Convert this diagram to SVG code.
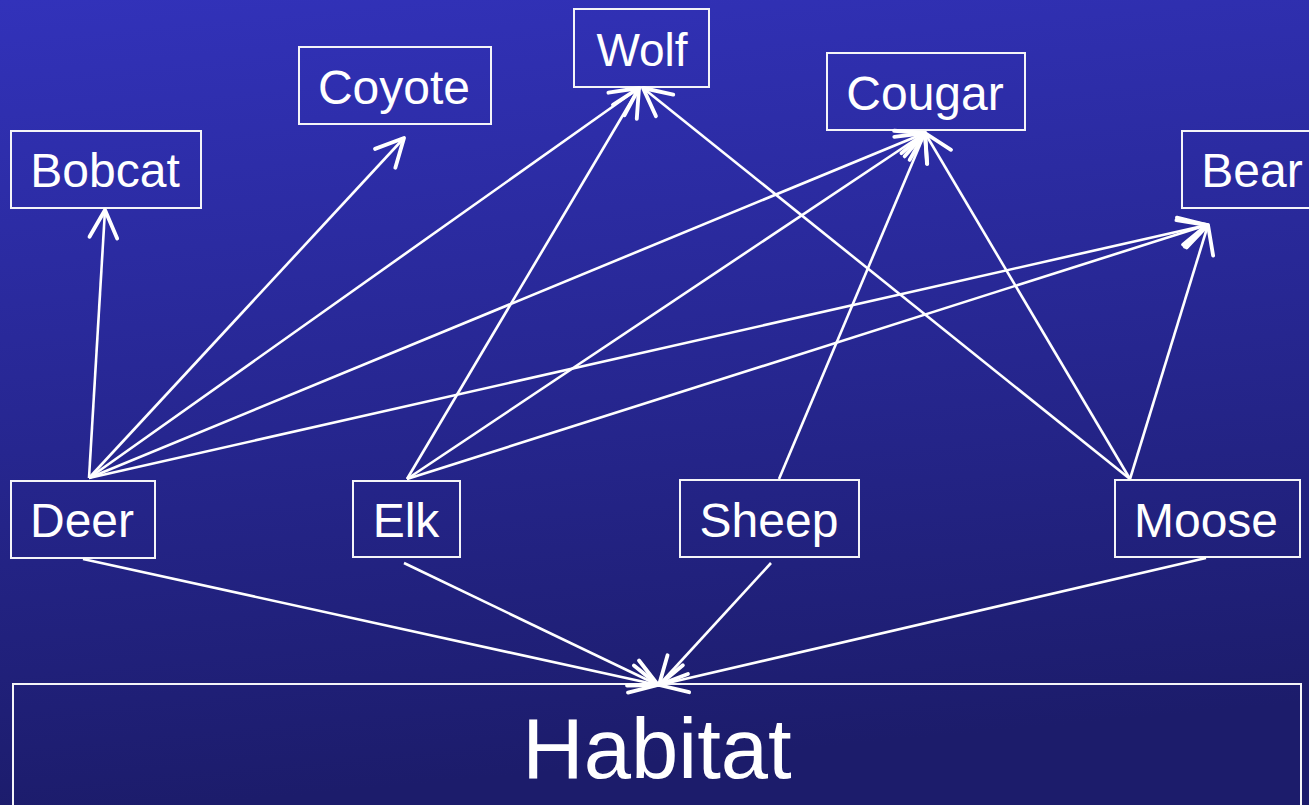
<svg xmlns="http://www.w3.org/2000/svg" width="1309" height="805" viewBox="0 0 1309 805">
  <defs>
    <linearGradient id="bg" x1="0" y1="0" x2="0.15" y2="1">
      <stop offset="0" stop-color="#3232ba"/>
      <stop offset="0.55" stop-color="#26268f"/>
      <stop offset="1" stop-color="#1c1c6b"/>
    </linearGradient>
    <marker id="arrow" markerUnits="userSpaceOnUse" markerWidth="40" markerHeight="40" viewBox="-22 -12 26 24" refX="0" refY="0" orient="auto" overflow="visible">
      <path d="M-18,-9 L0,0 L-18,9" fill="none" stroke="#ffffff" stroke-width="2.5" stroke-linecap="round" stroke-linejoin="round"/>
    </marker>
    <style>
      .box { fill: none; stroke: #f4f4f8; stroke-width: 2; }
      .label { font-family: "Liberation Sans", Arial, sans-serif; font-size: 48px; fill: #ffffff; text-anchor: middle; }
      .big { font-size: 85px; }
      .edge { stroke: #ffffff; stroke-width: 2.6; fill: none; marker-end: url(#arrow); }
    </style>
  </defs>

  <rect x="0" y="0" width="1309" height="805" fill="url(#bg)"/>

  <!-- predators -->
  <g id="bobcat"><rect class="box" x="11" y="131" width="190" height="77"/><text class="label" x="105" y="187">Bobcat</text></g>
  <g id="coyote"><rect class="box" x="299" y="47" width="192" height="77"/><text class="label" x="394" y="104">Coyote</text></g>
  <g id="wolf"><rect class="box" x="574" y="9" width="135" height="78"/><text class="label" x="642" y="66" style="font-size:46px">Wolf</text></g>
  <g id="cougar"><rect class="box" x="827" y="53" width="198" height="77"/><text class="label" x="925" y="110">Cougar</text></g>
  <g id="bear"><rect class="box" x="1182" y="131" width="140" height="77"/><text class="label" x="1252" y="187">Bear</text></g>

  <!-- prey -->
  <g id="deer"><rect class="box" x="11" y="481" width="144" height="77"/><text class="label" x="82" y="537">Deer</text></g>
  <g id="elk"><rect class="box" x="353" y="481" width="107" height="76"/><text class="label" x="406" y="537">Elk</text></g>
  <g id="sheep"><rect class="box" x="680" y="480" width="179" height="77"/><text class="label" x="769" y="537">Sheep</text></g>
  <g id="moose"><rect class="box" x="1115" y="480" width="185" height="77"/><text class="label" x="1206" y="537">Moose</text></g>

  <!-- base -->
  <g id="habitat"><rect class="box" x="13" y="684" width="1288" height="140"/><text class="label big" x="657" y="778">Habitat</text></g>

  <g id="connectors">
    <!-- Deer -->
    <line class="edge" x1="89" y1="478" x2="105" y2="210"/>
    <line class="edge" x1="89" y1="478" x2="404" y2="138"/>
    <line class="edge" x1="89" y1="478" x2="639" y2="88"/>
    <line class="edge" x1="89" y1="478" x2="925" y2="133"/>
    <line class="edge" x1="89" y1="478" x2="1207" y2="225"/>
    <!-- Elk -->
    <line class="edge" x1="407" y1="479" x2="639" y2="88"/>
    <line class="edge" x1="407" y1="479" x2="925" y2="133"/>
    <line class="edge" x1="407" y1="479" x2="1207" y2="225"/>
    <!-- Sheep -->
    <line class="edge" x1="779" y1="479" x2="925" y2="133"/>
    <!-- Moose -->
    <line class="edge" x1="1130" y1="479" x2="643" y2="88"/>
    <line class="edge" x1="1130" y1="479" x2="925" y2="133"/>
    <line class="edge" x1="1130" y1="479" x2="1208" y2="225"/>
    <!-- to Habitat -->
    <line class="edge" x1="83" y1="559" x2="658" y2="685"/>
    <line class="edge" x1="404" y1="563" x2="658" y2="685"/>
    <line class="edge" x1="771" y1="563" x2="659" y2="685"/>
    <line class="edge" x1="1206" y1="558" x2="659" y2="685"/>
  </g>
</svg>
